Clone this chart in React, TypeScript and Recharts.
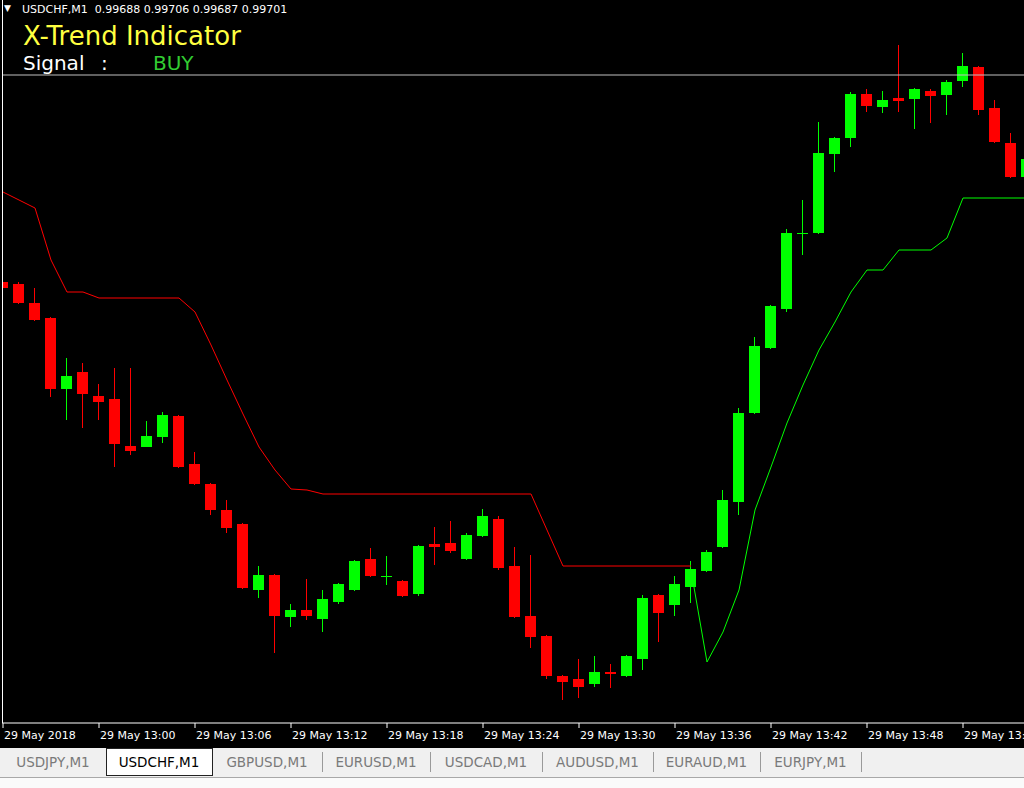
import React from 'react';
import { ComposedChart, Bar, Line, XAxis, YAxis, ReferenceLine } from 'recharts';

// USDCHF M1, one candle per minute from 12:54
const opens = [0.99494, 0.99492, 0.99473, 0.99458, 0.99387, 0.99404, 0.9938, 0.99377, 0.9933, 0.99329, 0.99339, 0.9936, 0.99312, 0.99292, 0.99266, 0.99252, 0.99186, 0.99201, 0.99159, 0.99166, 0.99157, 0.99174, 0.99186, 0.99217, 0.99199, 0.99195, 0.99182, 0.99232, 0.99233, 0.99217, 0.9924, 0.99257, 0.9921, 0.9916, 0.9914, 0.991, 0.99097, 0.99092, 0.99104, 0.991, 0.99117, 0.99181, 0.99171, 0.99189, 0.99205, 0.99229, 0.99274, 0.99363, 0.99428, 0.99467, 0.99542, 0.99543, 0.99622, 0.99638, 0.99682, 0.99669, 0.99678, 0.99677, 0.99685, 0.99681, 0.99695, 0.99709, 0.99668, 0.99633, 0.99599];
const highs = [0.99496, 0.99494, 0.99488, 0.99459, 0.99418, 0.99413, 0.99392, 0.99408, 0.99408, 0.99355, 0.99364, 0.99361, 0.99324, 0.99293, 0.99276, 0.99253, 0.9921, 0.99202, 0.99172, 0.99197, 0.99186, 0.99193, 0.99216, 0.99228, 0.9922, 0.99196, 0.99231, 0.99249, 0.99255, 0.99243, 0.99267, 0.9926, 0.99229, 0.99221, 0.99141, 0.99101, 0.99117, 0.9912, 0.99112, 0.99121, 0.99181, 0.99182, 0.992, 0.99215, 0.99226, 0.99286, 0.99368, 0.99439, 0.99471, 0.99547, 0.99576, 0.99654, 0.99639, 0.99684, 0.99687, 0.99685, 0.99731, 0.99688, 0.99687, 0.99696, 0.99723, 0.9971, 0.99676, 0.99643, 0.99618];
const lows = [0.99486, 0.99472, 0.99455, 0.99379, 0.99356, 0.99348, 0.99356, 0.99309, 0.99321, 0.99329, 0.99333, 0.99308, 0.99291, 0.99261, 0.99243, 0.99187, 0.99178, 0.99123, 0.99149, 0.99156, 0.99144, 0.99172, 0.99185, 0.99199, 0.99191, 0.99179, 0.9918, 0.99211, 0.99223, 0.99216, 0.99239, 0.99206, 0.99158, 0.99128, 0.99097, 0.99076, 0.99078, 0.99089, 0.99088, 0.99099, 0.99106, 0.99134, 0.9916, 0.99173, 0.99204, 0.99228, 0.99261, 0.99362, 0.99427, 0.99464, 0.99521, 0.99542, 0.99604, 0.99629, 0.99664, 0.99663, 0.99664, 0.99647, 0.99653, 0.99661, 0.99689, 0.99661, 0.99633, 0.99598, 0.99598];
const closes = [0.99488, 0.99473, 0.99456, 0.99387, 0.994, 0.99382, 0.99374, 0.99332, 0.99325, 0.9934, 0.99361, 0.99309, 0.99292, 0.99266, 0.99248, 0.99188, 0.99201, 0.9916, 0.99166, 0.9916, 0.99177, 0.99192, 0.99215, 0.992, 0.992, 0.9918, 0.9923, 0.99229, 0.99225, 0.99241, 0.9926, 0.99208, 0.99159, 0.99139, 0.991, 0.99094, 0.99089, 0.99104, 0.99102, 0.9912, 0.99178, 0.99163, 0.99192, 0.99207, 0.99224, 0.99276, 0.99363, 0.9943, 0.9947, 0.99543, 0.99543, 0.99623, 0.99638, 0.99682, 0.9967, 0.99676, 0.99675, 0.99687, 0.9968, 0.99694, 0.9971, 0.99666, 0.99634, 0.99599, 0.99617];

// X-Trend stop line: red while selling, green while buying
const trendDown = [0.99584, 0.99576, 0.99568, 0.99516, 0.99484, 0.99484, 0.99478, 0.99478, 0.99478, 0.99478, 0.99478, 0.99478, 0.99464, 0.99431, 0.99396, 0.99362, 0.99329, 0.99306, 0.99287, 0.99286, 0.99282, 0.99282, 0.99282, 0.99282, 0.99282, 0.99282, 0.99282, 0.99282, 0.99282, 0.99282, 0.99282, 0.99282, 0.99282, 0.99282, 0.99246, 0.9921, 0.9921, 0.9921, 0.9921, 0.9921, 0.9921, 0.9921, 0.9921, 0.9921, ...Array(21).fill(null)];
const trendUp = [...Array(43).fill(null), 0.99206, 0.99114, 0.99144, 0.99186, 0.99266, 0.99309, 0.99353, 0.99391, 0.99426, 0.99454, 0.99484, 0.99506, 0.99506, 0.99526, 0.99526, 0.99526, 0.99538, 0.99578, 0.99578, 0.99578, 0.99578, 0.99578];

const tickIndex = [0, 6, 12, 18, 24, 30, 36, 42, 48, 54, 60];
const tickLabels = ['29 May 2018', '29 May 13:00', '29 May 13:06', '29 May 13:12', '29 May 13:18', '29 May 13:24', '29 May 13:30', '29 May 13:36', '29 May 13:42', '29 May 13:48', '29 May 13:54'];

const symbol = 'USDCHF,M1';
const lastBar = ['0.99688', '0.99706', '0.99687', '0.99701'];
const bidPrice = 0.99701;
const signal = 'BUY';

const tabs = ['USDJPY,M1', 'USDCHF,M1', 'GBPUSD,M1', 'EURUSD,M1', 'USDCAD,M1', 'AUDUSD,M1', 'EURAUD,M1', 'EURJPY,M1'];
const tabEdges = [0, 106, 212, 322, 430, 542, 653, 760, 861];

const data = opens.map((o, i) => ({
  i,
  open: o,
  high: highs[i],
  low: lows[i],
  close: closes[i],
  down: trendDown[i],
  up: trendUp[i],
}));

const FONT = '"DejaVu Sans", Verdana, sans-serif';

const Candle = (props: any) => {
  const { x, y, width, height, payload } = props;
  const { open, close, high, low } = payload;
  const top = Math.min(y, y + height);
  const h = Math.abs(height);
  const k = h / (high - low);
  const color = close >= open ? '#00ff00' : '#ff0000';
  const cx = Math.floor(x + width / 2);
  const bTop = Math.round(top + (high - Math.max(open, close)) * k);
  const bBot = Math.round(top + (high - Math.min(open, close)) * k);
  return (
    <g>
      <line x1={cx + 0.5} x2={cx + 0.5} y1={Math.round(top)} y2={Math.round(top + h)} stroke={color} />
      <rect x={cx - 5} y={bTop} width={11} height={Math.max(1, bBot - bTop)} fill={color} />
    </g>
  );
};

const DateTick = (props: any) => {
  const { x, y, payload } = props;
  return (
    <text x={x + 1} y={y + 9} fill="#fff" fontSize={11} fontFamily={FONT}>
      {tickLabels[tickIndex.indexOf(payload.value)]}
    </text>
  );
};

export default function App() {
  return (
    <div style={{ position: 'absolute', left: 0, top: 0, width: 1024, height: 788, overflow: 'hidden', background: '#000' }}>
      <ComposedChart width={1042} height={748} data={data} margin={{ top: 0, right: 15, bottom: 0, left: 2 }}>
        <XAxis
          type="number"
          dataKey="i"
          domain={[-0.0625, 64]}
          allowDataOverflow
          ticks={tickIndex}
          interval={0}
          tick={<DateTick />}
          tickSize={5}
          height={25}
          axisLine={{ stroke: '#fff' }}
          tickLine={{ stroke: '#fff' }}
        />
        <YAxis hide domain={[0.99053, 0.99776]} allowDataOverflow />
        <ReferenceLine y={bidPrice} stroke="#c0c0c0" />
        <Line type="linear" dataKey="down" stroke="#ff0000" strokeWidth={1} dot={false} isAnimationActive={false} />
        <Line type="linear" dataKey="up" stroke="#00ff00" strokeWidth={1} dot={false} isAnimationActive={false} />
        <Bar
          dataKey={(d: any) => [d.low, d.high]}
          barSize={11}
          shape={(p: any) => <Candle {...p} />}
          isAnimationActive={false}
        />
      </ComposedChart>

      <svg width={1024} height={788} style={{ position: 'absolute', left: 0, top: 0, pointerEvents: 'none' }}>
        <line x1={2.5} x2={2.5} y1={0} y2={723} stroke="#fff" />
        <text x={4} y={11} fill="#fff" fontSize={9} fontFamily={FONT}>▼</text>
        <text x={22} y={13} fill="#fff" fontSize={11} fontFamily={FONT} style={{ whiteSpace: 'pre' }}>
          {`${symbol}  ${lastBar.join(' ')}`}
        </text>
        <text x={23} y={45} fill="#ffff40" fontSize={26} fontFamily={FONT}>X-Trend Indicator</text>
        <text x={23} y={70} fill="#fff" fontSize={20} fontFamily={FONT}>Signal</text>
        <text x={101} y={70} fill="#fff" fontSize={20} fontFamily={FONT}>:</text>
        <text x={153} y={70} fill="#32cd32" fontSize={20} fontFamily={FONT}>{signal}</text>

        <rect x={0} y={748} width={1024} height={29} fill="#f0f0f0" />
        <line x1={0} x2={1024} y1={777.5} y2={777.5} stroke="#a8a8a8" />
        <rect x={0} y={778} width={1024} height={10} fill="#fafafa" />
        {tabs.map((t, k) => {
          const l = tabEdges[k];
          const r = tabEdges[k + 1];
          const active = t === symbol;
          return (
            <g key={t}>
              {active && <rect x={l + 0.5} y={748.5} width={r - l} height={27} fill="#fff" stroke="#222" />}
              {k > 1 && <line x1={r + 0.5} x2={r + 0.5} y1={752} y2={772} stroke="#9a9a9a" />}
              <text x={(l + r) / 2} y={767} textAnchor="middle" fill={active ? '#000' : '#7a7a7a'} fontSize={13.5} fontFamily={FONT}>
                {t}
              </text>
            </g>
          );
        })}
        <line x1={322.5} x2={322.5} y1={752} y2={772} stroke="#9a9a9a" />
      </svg>
    </div>
  );
}
